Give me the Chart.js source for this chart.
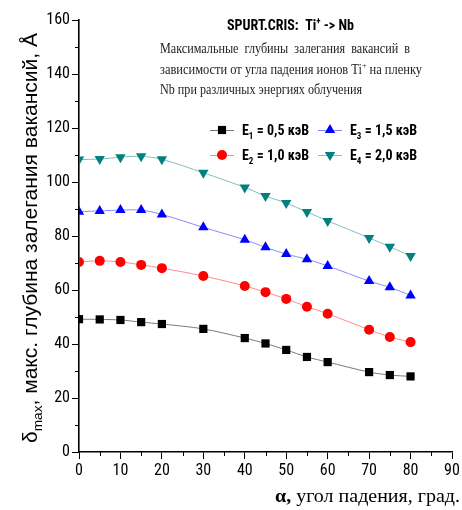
<!DOCTYPE html>
<html>
<head>
<meta charset="utf-8">
<script src="https://cdn.jsdelivr.net/npm/chart.js@4.4.1/dist/chart.umd.min.js"></script>
<style>
  html, body { margin: 0; padding: 0; background: #fff; }
  canvas { display: block; }
</style>
</head>
<body>
<canvas id="chart" width="462" height="510" style="width:462px;height:510px"></canvas>
<script>
// angle of incidence, degrees
const angles = [0, 5, 10, 15, 20, 30, 40, 45, 50, 55, 60, 70, 75, 80];
// max vacancy depth, Å
const e1 = [49.2, 49.1, 48.9, 48.1, 47.4, 45.6, 42.2, 40.2, 37.8, 35.2, 33.3, 29.6, 28.5, 28.0];
const e2 = [70.4, 70.8, 70.4, 69.3, 68.1, 65.2, 61.5, 59.2, 56.7, 53.8, 51.2, 45.3, 42.6, 40.7];
const e3 = [89.0, 89.3, 89.6, 89.6, 88.0, 83.2, 78.6, 75.8, 73.3, 71.4, 68.9, 63.3, 61.0, 58.0];
const e4 = [108.3, 108.5, 109.2, 109.5, 108.4, 103.4, 98.0, 94.8, 92.2, 88.9, 85.6, 79.3, 76.0, 72.6];
const energies = ['0,5', '1,0', '1,5', '2,0'];
const xMinor = [5, 15, 25, 35, 45, 55, 65, 75, 85];
const yMinor = [10, 30, 50, 70, 90, 110, 130, 150];

const NARROW = "'Liberation Sans Narrow', 'Arial Narrow', 'Roboto Condensed', sans-serif";
const SERIF = "'Liberation Serif', 'Times New Roman', serif";
const SANS = "'Liberation Sans', Arial, sans-serif";

const pts = (vals) => angles.map((a, i) => ({ x: a, y: vals[i] }));

function series(label, vals, marker, line, style, radius, rotation){
  return {
    label, data: pts(vals),
    borderColor: line, borderWidth: 1,
    backgroundColor: marker, pointBackgroundColor: marker, pointBorderColor: marker,
    pointStyle: style, pointRadius: radius, pointRotation: rotation || 0, pointBorderWidth: 0,
    tension: 0.3, fill: false
  };
}

// draw a run of text pieces: {t, font, dy}
function drawRuns(ctx, runs, x, y){
  for (const r of runs){
    ctx.font = r.font;
    ctx.fillText(r.t, x, y + (r.dy || 0));
    x += ctx.measureText(r.t).width;
  }
  return x;
}
function runsWidth(ctx, runs){
  let w = 0;
  for (const r of runs){ ctx.font = r.font; w += ctx.measureText(r.t).width; }
  return w;
}
// same, but squeezed/stretched horizontally to a given width
function drawRunsFit(ctx, runs, x, y, width){
  const w = runsWidth(ctx, runs);
  ctx.save();
  ctx.translate(x, y);
  ctx.scale(width / w, 1);
  drawRuns(ctx, runs, 0, 0);
  ctx.restore();
}

const texts = {
  id: 'texts',
  afterDraw(chart){
    const { ctx, scales: { x, y } } = chart;
    ctx.save();
    ctx.fillStyle = '#000';
    ctx.strokeStyle = '#000';
    ctx.textBaseline = 'alphabetic';
    ctx.textAlign = 'left';

    // minor ticks
    ctx.lineWidth = 1;
    for (const v of xMinor){
      const px = Math.round(x.getPixelForValue(v)) + 0.5;
      ctx.beginPath(); ctx.moveTo(px, x.top); ctx.lineTo(px, x.top + 4); ctx.stroke();
    }
    for (const v of yMinor){
      const py = Math.round(y.getPixelForValue(v)) + 0.5;
      ctx.beginPath(); ctx.moveTo(y.right, py); ctx.lineTo(y.right - 4, py); ctx.stroke();
    }

    // header
    drawRuns(ctx, [
      { t: 'SPURT.CRIS:  Ti', font: `bold 14px ${NARROW}` },
      { t: '+', font: `bold 9px ${NARROW}`, dy: -6 },
      { t: ' -> Nb', font: `bold 14px ${NARROW}` }
    ], 227, 30);
    const sf = `14px ${SERIF}`;
    ctx.fillStyle = '#222';
    drawRunsFit(ctx, [{ t: 'Максимальные  глубины  залегания  вакансий  в', font: sf }], 160, 53, 250);
    drawRunsFit(ctx, [
      { t: 'зависимости от угла падения ионов Ti', font: sf },
      { t: '+', font: `9px ${SERIF}`, dy: -6 },
      { t: ' на пленку', font: sf }
    ], 160, 74, 262);
    drawRunsFit(ctx, [{ t: 'Nb при различных энергиях облучения', font: sf }], 160, 94, 202);
    ctx.fillStyle = '#000';

    // legend
    const order = [[0, 210, 130], [2, 318, 130], [1, 210, 155], [3, 318, 155]];
    for (const [i, lx, ly] of order){
      const ds = chart.data.datasets[i];
      ctx.strokeStyle = ds.borderColor; ctx.lineWidth = 1;
      ctx.beginPath(); ctx.moveTo(lx, ly + 0.5); ctx.lineTo(lx + 24, ly + 0.5); ctx.stroke();
      ctx.fillStyle = ds.pointBackgroundColor;
      Chart.helpers.drawPoint(ctx, { pointStyle: ds.pointStyle, radius: ds.pointRadius, rotation: ds.pointRotation, borderWidth: 0 }, lx + 12, ly);
      ctx.fillStyle = '#000';
      drawRuns(ctx, [
        { t: 'E', font: `bold 14px ${NARROW}` },
        { t: String(i + 1), font: `bold 9px ${NARROW}`, dy: 4 },
        { t: ' = ' + energies[i] + ' кэВ', font: `bold 14px ${NARROW}` }
      ], lx + 32, ly + 5);
    }

    // x title
    const xt = [
      { t: 'α,', font: `bold 19px ${SERIF}` },
      { t: ' угол падения, град.', font: `19px ${SERIF}` }
    ];
    drawRunsFit(ctx, xt, 275, 502, 185);

    // y title (rotated)
    ctx.save();
    ctx.translate(37, 443);
    ctx.rotate(-Math.PI / 2);
    drawRunsFit(ctx, [
      { t: 'δ', font: `20px ${SANS}` },
      { t: 'max', font: `13px ${SANS}`, dy: 5 },
      { t: ', макс. глубина залегания вакансий, Å', font: `20px ${SANS}` }
    ], 0, 0, 410);
    ctx.restore();

    ctx.restore();
  }
};

const tickFont = { family: NARROW, size: 16 };

new Chart(document.getElementById('chart'), {
  type: 'line',
  data: {
    datasets: [
      series('E1', e1, '#000000', '#7a7a7a', 'rect', 5.8),
      series('E2', e2, '#ff0000', '#ff8a8a', 'circle', 5),
      series('E3', e3, '#0000ff', '#8a8aff', 'triangle', 6),
      series('E4', e4, '#008080', '#7fbfbf', 'triangle', 6, 180)
    ]
  },
  options: {
    responsive: false,
    animation: false,
    layout: { padding: { top: 20, right: 10, left: 0, bottom: 0 } },
    plugins: { legend: { display: false }, tooltip: { enabled: false } },
    scales: {
      x: {
        type: 'linear', min: 0, max: 90,
        ticks: { stepSize: 10, color: '#000', font: tickFont, padding: 2, maxRotation: 0 },
        grid: { drawOnChartArea: false, drawTicks: true, tickLength: 7, color: '#000', lineWidth: 1 },
        border: { display: true, color: '#000', width: 1.6 },
        afterFit: (s) => { s.height = 58; }
      },
      y: {
        type: 'linear', min: 0, max: 160,
        ticks: { stepSize: 20, color: '#000', font: tickFont, padding: 2 },
        grid: { drawOnChartArea: false, drawTicks: true, tickLength: 7, color: '#000', lineWidth: 1 },
        border: { display: true, color: '#000', width: 1.6 },
        afterFit: (s) => { s.width = 79; }
      }
    }
  },
  plugins: [texts]
});
</script>
</body>
</html>
